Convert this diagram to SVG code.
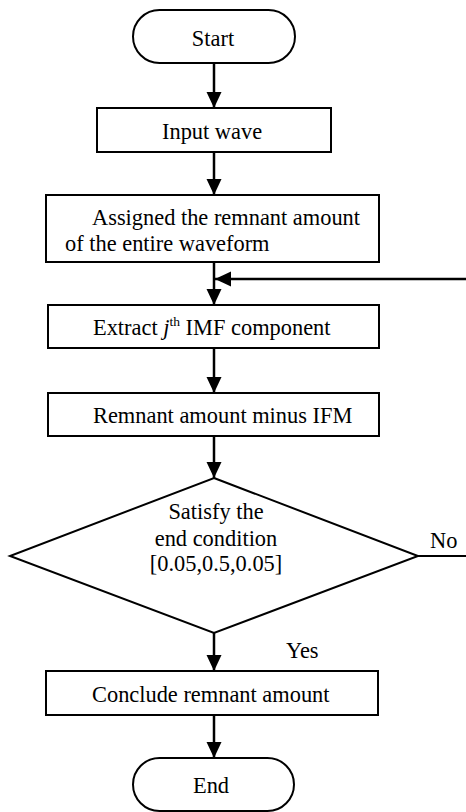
<svg xmlns="http://www.w3.org/2000/svg" width="466" height="812" viewBox="0 0 466 812" font-family="'Liberation Serif', Tinos, 'Times New Roman', 'DejaVu Serif', serif">
<style>
.box{fill:#fff;stroke:#000;stroke-width:2}
.t{font-family:'Liberation Serif', Tinos, 'Times New Roman', 'DejaVu Serif', serif;font-size:22.4px;fill:#000}
.c{text-anchor:middle}
.con line{stroke:#000;stroke-width:2.5}
</style>
<defs>
<marker id="ah" markerUnits="userSpaceOnUse" markerWidth="16" markerHeight="18" viewBox="0 0 16 18" refX="16" refY="7.5" orient="auto">
<path d="M0,0 L16,7.5 L0,15 Z" fill="#000"/>
</marker>
</defs>
<g id="start"><rect class="box" x="133" y="10" width="162" height="53" rx="26.5"/><text class="t c" x="213" y="46">Start</text></g>
<g id="input"><rect class="box" x="97" y="108" width="234" height="44"/><text class="t" x="162" y="139">Input wave</text></g>
<g id="assign"><rect class="box" x="46" y="195" width="333" height="67"/><text class="t" x="92" y="225">Assigned the remnant amount</text><text class="t" x="65" y="251">of the entire waveform</text></g>
<g id="extract"><rect class="box" x="48" y="305" width="331" height="43"/><text class="t" x="93" y="335">Extract <tspan font-style="italic">j</tspan><tspan font-size="13.5" dy="-9">th</tspan><tspan dy="9"> IMF component</tspan></text></g>
<g id="remnant"><rect class="box" x="48" y="393" width="331" height="43"/><text class="t" x="93" y="423">Remnant amount minus IFM</text></g>
<g id="decision"><polygon class="box" points="214,478 418,556 214,633 10,556"/><text class="t c" x="216" y="519">Satisfy the</text><text class="t c" x="216" y="546">end condition</text><text class="t c" x="216" y="571">[0.05,0.5,0.05]</text></g>
<g id="conclude"><rect class="box" x="46" y="671" width="332" height="44"/><text class="t" x="92" y="702">Conclude remnant amount</text></g>
<g id="end"><rect class="box" x="133" y="758" width="161" height="53" rx="26.5"/><text class="t c" x="211" y="793">End</text></g>
<g id="connectors" class="con">
<line x1="214" y1="63" x2="214" y2="108" marker-end="url(#ah)"/>
<line x1="214" y1="152" x2="214" y2="195" marker-end="url(#ah)"/>
<line x1="214" y1="262" x2="214" y2="305" marker-end="url(#ah)"/>
<line x1="466" y1="279" x2="215" y2="279" marker-end="url(#ah)"/>
<line x1="214" y1="348" x2="214" y2="393" marker-end="url(#ah)"/>
<line x1="214" y1="436" x2="214" y2="478" marker-end="url(#ah)"/>
<line x1="214" y1="633" x2="214" y2="671" marker-end="url(#ah)"/>
<line x1="214" y1="715" x2="214" y2="758" marker-end="url(#ah)"/>
<line x1="418" y1="556" x2="466" y2="556" style="stroke-width:2"/>
<text class="t" x="430" y="548">No</text>
<text class="t" x="286" y="658">Yes</text>
</g>
</svg>
